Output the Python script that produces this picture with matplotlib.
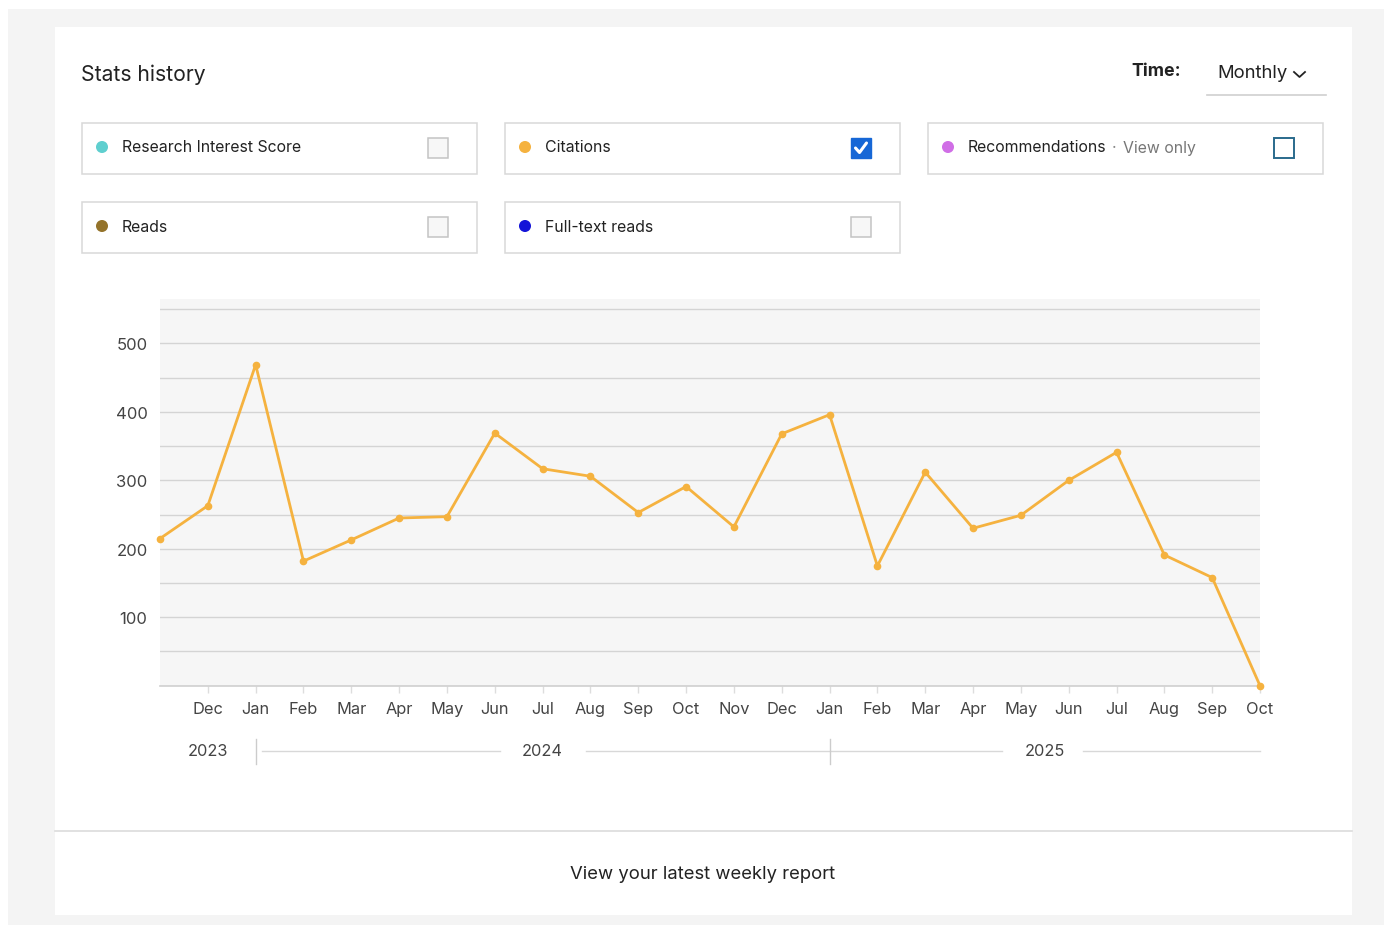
import matplotlib
matplotlib.use("Agg")
import matplotlib.pyplot as plt
from matplotlib.patches import Rectangle
import numpy as np

plt.rcParams['font.family'] = ['Inter', 'DejaVu Sans']

# ---------------- data ----------------
months = ["Nov", "Dec", "Jan", "Feb", "Mar", "Apr", "May", "Jun", "Jul", "Aug", "Sep", "Oct",
          "Nov", "Dec", "Jan", "Feb", "Mar", "Apr", "May", "Jun", "Jul", "Aug", "Sep", "Oct"]
citations = [215, 263, 469, 182, 213, 245, 247, 369, 317, 306, 253, 291,
             232, 368, 396, 175, 312, 230, 249, 300, 341, 191, 158, 0]
yticks = [100, 200, 300, 400, 500]
years = ["2023", "2024", "2025"]
year_label_pos = [1.0, 8.0, 18.5]
year_start_idx = [2, 14]

legend_items = ["Research Interest Score", "Citations", "Recommendations", "Reads", "Full-text reads"]
legend_colors = ["#5fcfcf", "#f5b23f", "#d06ee6", "#94732a", "#1414d8"]

W, H = 1391, 928
fig = plt.figure(figsize=(W / 100, H / 100), dpi=100, facecolor="white")

# overlay in pixel coordinates
ov = fig.add_axes([0, 0, 1, 1], zorder=0)
ov.set_xlim(0, W)
ov.set_ylim(H, 0)
ov.axis("off")

# outer gray frame and white card
ov.add_patch(Rectangle((8, 10), 1376, 916, facecolor="#f4f4f4", edgecolor="none"))
ov.add_patch(Rectangle((55, 28), 1297, 888, facecolor="white", edgecolor="none"))
ov.plot([55, 1352], [832, 832], color="#dcdcdc", lw=1.2)

ov.text(81, 75, "Stats history", fontsize=15.2, color="#222222", va="center", ha="left")
ov.text(1181, 72, "Time:", fontsize=12.8, color="#222222", va="center", ha="right", fontweight="bold")
ov.text(1217, 73, "Monthly", fontsize=13.3, color="#222222", va="center", ha="left")
ov.plot([1294, 1299.5, 1305], [73, 78, 73], color="#222222", lw=1.3)
ov.plot([1207, 1326], [96, 96], color="#cfcfcf", lw=1.2)

# legend boxes
boxes = [(82, 124), (505, 124), (928, 124), (82, 203), (505, 203)]
for i, ((bx, by), lab, col) in enumerate(zip(boxes, legend_items, legend_colors)):
    ov.add_patch(Rectangle((bx, by), 395, 51, facecolor="white", edgecolor="#d8d8d8", lw=1.1))
    ov.scatter([bx + 20], [by + 24], s=75, color=col, zorder=3, edgecolors="none")
    ov.text(bx + 40, by + 24, lab, fontsize=11.4, color="#222222", va="center", ha="left")
    cx, cy = bx + 346, by + 15
    if lab == "Citations":
        ov.add_patch(Rectangle((cx, cy), 20, 20, facecolor="#1667d6", edgecolor="#1667d6", lw=1))
        ov.plot([cx + 4.5, cx + 8.5, cx + 15.5], [cy + 10, cy + 14.5, cy + 5], color="white", lw=2.2,
                solid_capstyle="round", solid_joinstyle="round", zorder=4)
    elif lab == "Recommendations":
        ov.add_patch(Rectangle((cx, cy), 20, 20, facecolor="white", edgecolor="#2a6a8c", lw=1.4))
    else:
        ov.add_patch(Rectangle((cx, cy), 20, 20, facecolor="#f7f7f7", edgecolor="#c4c4c4", lw=1.1))
ov.text(1112, 148, "·", fontsize=11.4, color="#888888", va="center", ha="left")
ov.text(1123, 149, "View only", fontsize=11.4, color="#777777", va="center", ha="left")

ov.text(703, 875, "View your latest weekly report", fontsize=13.3, color="#222222", va="center", ha="center")

# ---------------- chart ----------------
x0, x1 = 160, 1260
y_zero, y_top = 686.7, 300
ymax = 565
ax = fig.add_axes([x0 / W, (H - y_zero) / H, (x1 - x0) / W, (y_zero - y_top) / H], zorder=2)
ax.set_facecolor("#f6f6f6")
x = np.arange(len(citations))
ax.set_xlim(0, len(citations) - 1)
ax.set_ylim(0, ymax)
for gy in np.arange(50, 551, 50):
    ax.axhline(gy, color="#d4d4d4", lw=1.0, zorder=1)
for s in ["top", "right", "left"]:
    ax.spines[s].set_visible(False)
ax.spines["bottom"].set_color("#cfcfcf")
ax.spines["bottom"].set_linewidth(1.2)

ax.plot(x, citations, color="#f5b23f", lw=2.0, marker="o", markersize=4.5,
        markerfacecolor="#f5b23f", markeredgecolor="#f5b23f", zorder=3, clip_on=False)

ax.set_yticks(yticks)
ax.set_yticklabels([str(v) for v in yticks])
ax.tick_params(axis="y", length=0, pad=9, labelsize=12, labelcolor="#444444")
ax.set_xticks(x[1:])
ax.set_xticklabels(months[1:])
ax.tick_params(axis="x", length=5, width=1, color="#dddddd", pad=6, labelsize=11.8, labelcolor="#444444")

# year axis
ytr = ax.get_xaxis_transform()
yy = (y_zero - 752) / (y_zero - y_top)
for lab, pos in zip(years, year_label_pos):
    ax.text(pos, yy, lab, transform=ytr, fontsize=11.8, color="#444444", ha="center", va="center", clip_on=False)
seg = [(2.13, 7.1), (8.9, 17.6), (19.3, 23.0)]
for a, b in seg:
    ax.plot([a, b], [yy, yy], transform=ytr, color="#d8d8d8", lw=1.0, clip_on=False)
for idx in year_start_idx:
    ax.plot([idx, idx], [(y_zero - 740) / (y_zero - y_top), (y_zero - 765) / (y_zero - y_top)],
            transform=ytr, color="#cccccc", lw=1.0, clip_on=False)

fig.savefig("out.png", dpi=100, facecolor="white")
